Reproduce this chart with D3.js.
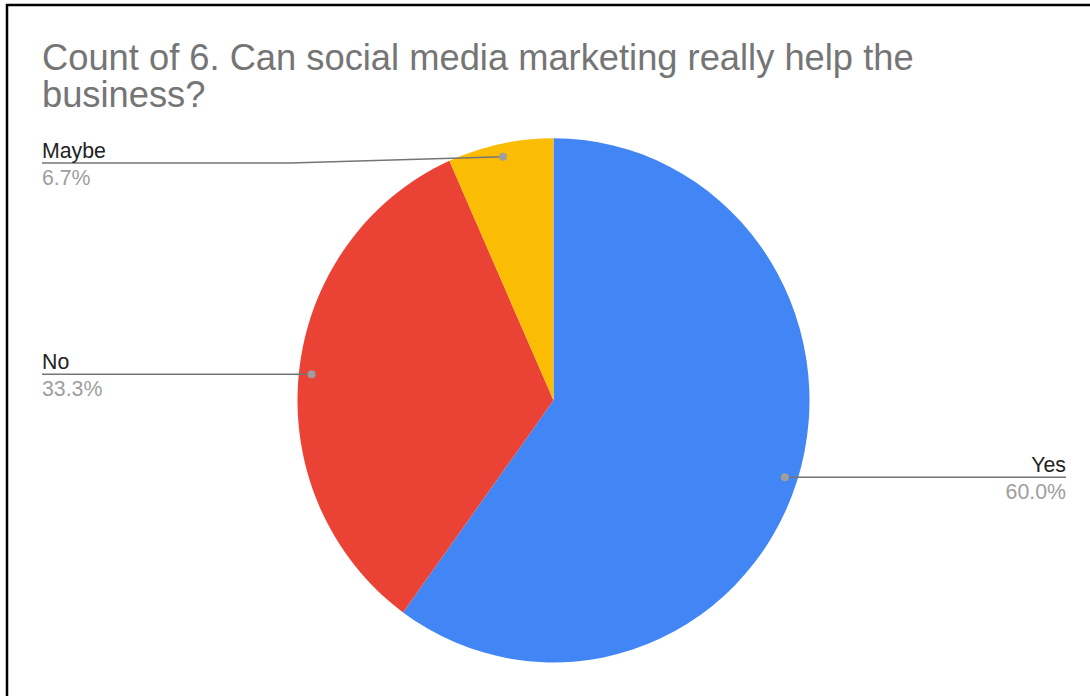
<!DOCTYPE html>
<html>
<head>
<meta charset="utf-8">
<script src="https://cdn.jsdelivr.net/npm/d3@7"></script>
<style>
  html, body { margin: 0; padding: 0; background: #fff; }
  svg { display: block; }
</style>
</head>
<body>
<svg id="chart" width="1090" height="696"></svg>
<script>
// Survey answers and their response counts
const categories = ["Yes", "No", "Maybe"];
const counts = [9, 5, 1];
const colors = ["#4285f4", "#ea4335", "#fbbc04"];
const title = ["Count of 6. Can social media marketing really help the", "business?"];

const W = 1090, H = 696;
const svg = d3.select("#chart");
const font = "'Liberation Sans', Arial, sans-serif";

// frame lines on the top and left edges
svg.append("path")
  .attr("d", `M7,${H} V5 H${W}`)
  .attr("fill", "none")
  .attr("stroke", "#000")
  .attr("stroke-width", 2.5);

// title
const t = svg.append("text")
  .attr("font-family", font)
  .attr("font-size", 36.3)
  .attr("fill", "#757575");
title.forEach((line, i) => {
  t.append("tspan").attr("x", 42).attr("y", 70 + i * 37).text(line);
});

// pie geometry
const cx = 553.5, cy = 400.3, R = 256, sy = 1.024;
const data = categories.map((c, i) => ({ name: c, value: counts[i], color: colors[i] }));
const total = d3.sum(counts);
const pie = d3.pie().value(d => d.value).sort(null);
const arcs = pie(data);
const arc = d3.arc().innerRadius(0).outerRadius(R);

const g = svg.append("g").attr("transform", `translate(${cx},${cy}) scale(1,${sy})`);
g.selectAll("path.slice")
  .data(arcs)
  .enter().append("path")
  .attr("class", "slice")
  .attr("d", arc)
  .attr("fill", d => d.data.color);

// leader lines and labels
const fmt = d3.format(".1f");
const lineLeft = 42, lineRight = 1066;
arcs.forEach(a => {
  const mid = (a.startAngle + a.endAngle) / 2;
  const px = cx + Math.sin(mid) * R * 0.95;
  const py = cy - Math.cos(mid) * R * 0.95 * sy;
  const right = Math.sin(mid) > 0;
  let pts;
  let ly = py;
  if (a.data.name === "Maybe") {
    ly = 163;
    pts = [[px, py], [290, ly], [lineLeft, ly]];
  } else {
    pts = [[px, py], [right ? lineRight : lineLeft, ly]];
  }
  svg.append("path")
    .attr("d", d3.line()(pts))
    .attr("fill", "none")
    .attr("stroke", "#757575")
    .attr("stroke-width", 1.5);
  svg.append("circle")
    .attr("cx", px).attr("cy", py).attr("r", 4)
    .attr("fill", "#9e9e9e");
  const tx = right ? lineRight : lineLeft;
  const anchor = right ? "end" : "start";
  svg.append("text")
    .attr("x", tx).attr("y", ly - 5)
    .attr("text-anchor", anchor)
    .attr("font-family", font).attr("font-size", 21.3)
    .attr("fill", "#222")
    .text(a.data.name);
  svg.append("text")
    .attr("x", tx).attr("y", ly + 22)
    .attr("text-anchor", anchor)
    .attr("font-family", font).attr("font-size", 21.3)
    .attr("fill", "#9e9e9e")
    .text(fmt(a.data.value / total * 100) + "%");
});
</script>
</body>
</html>
